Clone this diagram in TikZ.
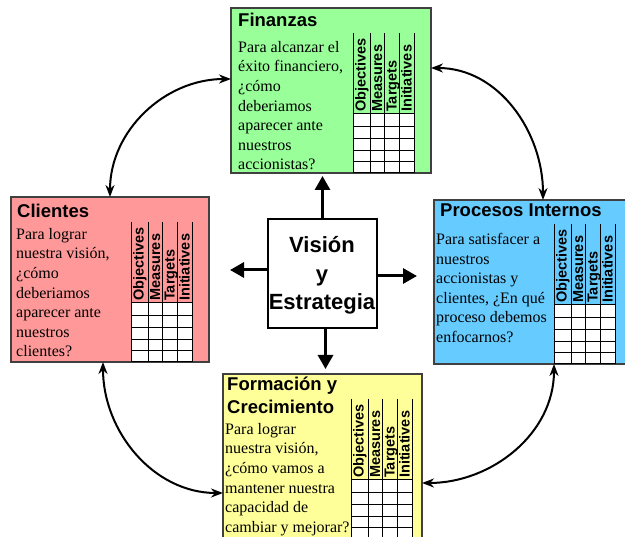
\documentclass[tikz,border=0pt]{standalone}
\usepackage{fontspec}
\setmainfont{Liberation Serif}
\newfontfamily\arialfont{Liberation Sans}
\usetikzlibrary{arrows.meta}
\definecolor{fingreen}{RGB}{153,255,153}
\definecolor{clipink}{RGB}{255,153,153}
\definecolor{problue}{RGB}{102,204,255}
\definecolor{foryellow}{RGB}{255,255,153}
\tikzset{
  panel/.style={draw=black!75, line width=1.2pt, rectangle, inner sep=0pt, outer sep=0pt, anchor=north west},
  paneltitle/.style={font=\arialfont\bfseries\fontsize{18.5}{23}\selectfont, inner sep=0pt, align=left},
  panelbody/.style={font=\fontsize{16}{19.6}\selectfont, anchor=north west, inner sep=0pt, align=left},
  hdr/.style={font=\arialfont\bfseries\fontsize{14.5}{14.5}\selectfont, anchor=base west, inner sep=0pt, rotate=90},
  cyclearrow/.style={line width=2pt, {Stealth[length=12pt,width=9pt]}-{Stealth[length=12pt,width=9pt]}},
  hubarrow/.style={line width=3pt, -{Triangle[length=14pt,width=15pt]}},
  gridline/.style={line width=1pt, draw=black}
}
\newcommand{\bsctable}[3]{%
  \begin{scope}[shift={(#2,-#3)}]
    \fill[white] (0,0) rectangle (61,-59);
    \foreach \cx in {0,17,31,46,61} \draw[gridline] (\cx,81) -- (\cx,-59);
    \foreach \ry in {0,13,25,37,48,59} \draw[gridline] (0,-\ry) -- (61,-\ry);
    \node[hdr] (#1-obj) at (12.5,2) {Objectives};
    \node[hdr] (#1-mea) at (29,2) {Measures};
    \node[hdr] (#1-tar) at (43.5,2) {Targets};
    \node[hdr] (#1-ini) at (58.5,2) {Initiatives};
  \end{scope}}
\begin{document}
\begin{tikzpicture}[x=1pt,y=1pt]
\useasboundingbox (0,0) rectangle (625,-537);
\clip (0,0) rectangle (625,-537);

% panels
\node[panel, fill=fingreen, minimum width=200pt, minimum height=165pt] (fin) at (231,-8) {};
\node[panel, fill=clipink, minimum width=198pt, minimum height=165pt] (cli) at (11,-197) {};
\node[panel, fill=problue, minimum width=200pt, minimum height=164pt] (pro) at (434,-200) {};
\node[panel, fill=foryellow, minimum width=199pt, minimum height=175pt] (for) at (223,-374) {};
\node[draw=black, line width=2pt, fill=white, minimum width=109pt, minimum height=109pt, inner sep=0pt] (vis) at (322.5,-273.5) {};

% tables
\bsctable{fint}{353}{114}
\bsctable{clit}{131}{303}
\bsctable{prot}{554}{305}
\bsctable{fort}{351}{480}

% titles
\node[paneltitle, anchor=base west] (fintitle) at (238,-27) {Finanzas};
\node[paneltitle, anchor=base west] (clititle) at (17,-218) {Clientes};
\node[paneltitle, anchor=base west] (protitle) at (440,-217) {Procesos Internos};
\node[paneltitle, anchor=north west] (fortitle) at (227,-376.5) {Formación y\\Crecimiento};

% bodies
\node[panelbody] (finbody) at (238,-41) {Para alcanzar el\\éxito financiero,\\¿cómo\\deberiamos\\aparecer ante\\nuestros\\accionistas?};
\node[panelbody] (clibody) at (16,-228) {Para lograr\\nuestra visión,\\¿cómo\\deberiamos\\aparecer ante\\nuestros\\clientes?};
\node[panelbody] (probody) at (436,-233) {Para satisfacer a\\nuestros\\accionistas y\\clientes, ¿En qué\\proceso debemos\\enfocarnos?};
\node[panelbody] (forbody) at (225,-423) {Para lograr\\nuestra visión,\\¿cómo vamos a\\mantener nuestra\\capacidad de\\cambiar y mejorar?};

% center text
\node[font=\arialfont\bfseries\fontsize{22}{28.5}\selectfont, align=center, inner sep=0pt] (vistext) at (322,-275.6) {Visión\\y\\Estrategia};

% hub arrows
\draw[hubarrow, shorten >=3pt] (vis.north) -- (vis.north |- fin.south);
\draw[hubarrow, shorten >=5pt, transform canvas={xshift=3pt}] (vis.south) -- (vis.south |- for.north);
\draw[hubarrow, shorten >=21pt, transform canvas={yshift=3.5pt}] (vis.west) -- (vis.west -| cli.east);
\draw[hubarrow, shorten >=17pt, transform canvas={yshift=-2.5pt}] (vis.east) -- (vis.east -| pro.west);

% cycle arrows
\draw[cyclearrow] ([yshift=-71pt]fin.north west) to[out=180,in=90] ([xshift=99pt]cli.north west);
\draw[cyclearrow] ([yshift=-60pt]fin.north east) to[out=0,in=90] ([xshift=109pt]pro.north west);
\draw[cyclearrow] ([xshift=92pt]cli.south west) to[out=270,in=180] ([yshift=-119pt]for.north west);
\draw[cyclearrow] ([xshift=120pt]pro.south west) to[out=270,in=0] ([yshift=-109pt]for.north east);
\end{tikzpicture}
\end{document}
